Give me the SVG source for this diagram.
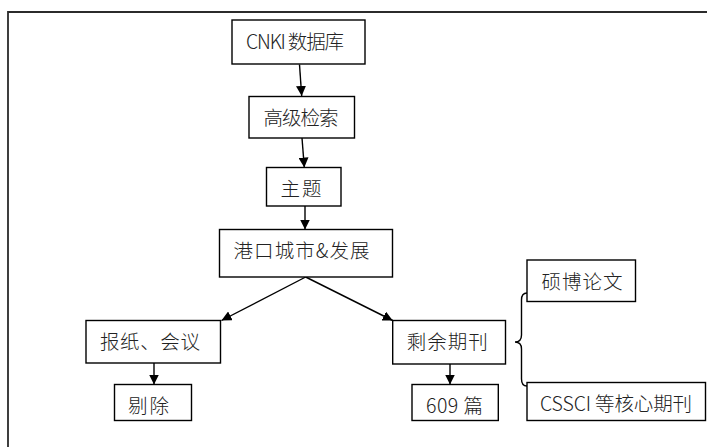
<svg xmlns="http://www.w3.org/2000/svg" width="707" height="447" viewBox="0 0 707 447">
<style>
.box{fill:#fff;stroke:#000;stroke-width:1.4}
.t{font-family:"Noto Sans CJK SC","Liberation Sans",sans-serif;font-size:19.5px;font-weight:300;fill:#222}
.c{fill:none;stroke:#000;stroke-width:1.4}
</style>
<defs>
<marker id="ah" viewBox="0 0 10 10" markerWidth="10" markerHeight="10" refX="10" refY="5" orient="auto" markerUnits="userSpaceOnUse">
<path d="M0,0 L10,5 L0,10 z" fill="#000"/>
</marker>
</defs>
<rect width="707" height="447" fill="#fff"/>
<path d="M8,447 V12 H707" fill="none" stroke="#2b2b2b" stroke-width="1.8"/>
<g id="connectors">
<path class="c" d="M299.5,64.5 L301.7,96" marker-end="url(#ah)"/>
<path class="c" d="M302,138 L304.3,167.5" marker-end="url(#ah)"/>
<path class="c" d="M305,206 L305,229.5" marker-end="url(#ah)"/>
<path class="c" d="M305.7,277 L221.5,320.5" marker-end="url(#ah)"/>
<path class="c" d="M305.7,277 L392.7,320.5" marker-end="url(#ah)"/>
<path class="c" d="M154,363 L154,384.5" marker-end="url(#ah)"/>
<path class="c" d="M450,364 L450,384.5" marker-end="url(#ah)"/>
<path class="c" d="M527,293 Q521.5,293 521.5,300 L521.5,335 Q521.5,342 515,342 Q521.5,342 521.5,349 L521.5,379 Q521.5,386 527,386" stroke-width="1.2"/>
</g>
<g id="n-cnki"><rect class="box" x="232" y="20" width="133" height="44"/><text class="t" x="246" y="49" textLength="98" lengthAdjust="spacing">CNKI 数据库</text></g>
<g id="n-advanced"><rect class="box" x="249" y="96.5" width="105.5" height="41.5"/><text class="t" x="263.5" y="125" textLength="75" lengthAdjust="spacing">高级检索</text></g>
<g id="n-topic"><rect class="box" x="266.5" y="167.5" width="74.5" height="38.5"/><text class="t" x="280.5" y="196" textLength="41" lengthAdjust="spacing">主题</text></g>
<g id="n-port"><rect class="box" x="219.5" y="229.5" width="173" height="47.5"/><text class="t" x="233.5" y="258" textLength="136" lengthAdjust="spacing">港口城市&amp;发展</text></g>
<g id="n-news"><rect class="box" x="86" y="320.5" width="134.5" height="42.5"/><text class="t" x="100" y="349" textLength="100" lengthAdjust="spacing">报纸、会议</text></g>
<g id="n-remove"><rect class="box" x="114.5" y="384.5" width="77" height="36"/><text class="t" x="128" y="413" textLength="41" lengthAdjust="spacing">剔除</text></g>
<g id="n-journal"><rect class="box" x="392.7" y="320.5" width="112.8" height="43.5"/><text class="t" x="406.7" y="349" textLength="81" lengthAdjust="spacing">剩余期刊</text></g>
<g id="n-609"><rect class="box" x="412" y="384.5" width="86.3" height="36"/><text class="t" x="426" y="413" textLength="57" lengthAdjust="spacing">609 篇</text></g>
<g id="n-thesis"><rect class="box" x="527" y="260" width="108.5" height="41.5"/><text class="t" x="541.5" y="288.5" textLength="81" lengthAdjust="spacing">硕博论文</text></g>
<g id="n-cssci"><rect class="box" x="527" y="382.5" width="178.5" height="38"/><text class="t" x="540" y="411" textLength="152" lengthAdjust="spacing">CSSCI 等核心期刊</text></g>
</svg>
